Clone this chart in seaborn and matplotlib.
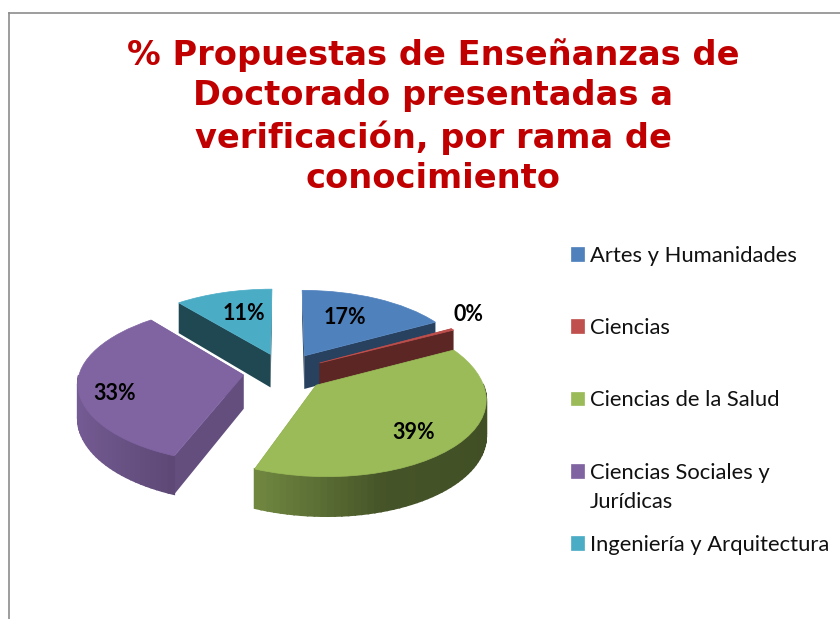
import numpy as np
import matplotlib
matplotlib.use("Agg")
import matplotlib.pyplot as plt
import matplotlib.transforms as mtransforms
import seaborn as sns

# data
categories = ["Artes y Humanidades", "Ciencias", "Ciencias de la Salud",
              "Ciencias Sociales y\nJurídicas", "Ingeniería y Arquitectura"]
percent = [17, 0.4, 39, 33, 11]
title_text = "% Propuestas de Enseñanzas de\nDoctorado presentadas a\nverificación, por rama de\nconocimiento"

# style
colors = ["#4F81BD", "#C0504D", "#9BBB59", "#8064A2", "#4BACC6"]
radial_shade = [0.5, 0.48, 0.5, 0.78, 0.42]
draw_order = [1, 2, 3, 3.2, 1]
label_dist = [0.63, 1.24, 0.75, 0.8, 0.62]
label_turn = [4, 6.5, -5, 8.5, -2.7]

# fake 3D view of the pie, unit circle -> pixels
cx, cy = 284, 372
rx, ry = 164, 77
persp_k = 0.12
front_lean = 6.5
depth = 34


def project(x, y, z=0.0):
    s = 1 / (1 + persp_k * y)
    return cx + rx * x * s - front_lean * np.minimum(y, 0), cy - ry * y * s + depth * z * s


class Persp(mtransforms.Transform):
    input_dims = 2
    output_dims = 2

    def transform_non_affine(self, xy):
        xy = np.asarray(xy)
        return np.column_stack(project(xy[:, 0], xy[:, 1]))


def arc_shade(c):
    return np.interp(c, [-1, -0.36, 0.3, 1], [0.92, 0.72, 0.45, 0.42])


def darker(color, f):
    return tuple(np.array(matplotlib.colors.to_rgb(color)) * f)


sns.set_theme(style="white")
plt.rcParams["font.family"] = ["Lato", "DejaVu Sans"]

fig = plt.figure(figsize=(8.4, 6.19), dpi=100)
ax = fig.add_axes([9 / 840, 0, 831 / 840, 606 / 619])

wedges, _, autotexts = ax.pie(percent, explode=[0.25] * len(percent), startangle=90,
                              counterclock=False, colors=sns.color_palette(colors),
                              autopct="%.0f%%")

ax.set_aspect("auto")
ax.set_xlim(9, 840)
ax.set_ylim(619, 13)
ax.set_frame_on(True)
for side in ["right", "bottom"]:
    ax.spines[side].set_visible(False)
for side in ["left", "top"]:
    ax.spines[side].set_color("#8c8c8c")
    ax.spines[side].set_linewidth(1.2)

persp = Persp() + ax.transData

for i, w in enumerate(wedges):
    (x0, y0), r = w.center, w.r
    t1, t2 = np.radians(w.theta1), np.radians(w.theta2)
    z = draw_order[i]
    w.set_transform(persp)
    w.set_zorder(z + 0.5)
    w.set_edgecolor(colors[i])
    w.set_linewidth(0.5)

    # straight walls from the tip to the rim
    for t in (t1, t2):
        x_rim, y_rim = x0 + r * np.cos(t), y0 + r * np.sin(t)
        top = project(np.array([x0, x_rim]), np.array([y0, y_rim]))
        bot = project(np.array([x_rim, x0]), np.array([y_rim, y0]), 1.0)
        ax.fill(np.r_[top[0], bot[0]], np.r_[top[1], bot[1]], lw=0,
                color=darker(colors[i], radial_shade[i]), zorder=z)

    # outer wall, small strips for the shading, front side only
    thetas = np.linspace(t1, t2, max(int(np.degrees(t2 - t1) / 2), 2))
    for a, b in zip(thetas[:-1], thetas[1:]):
        if np.sin((a + b) / 2) > 0:
            continue
        xs = x0 + r * np.cos(np.array([a, b]))
        ys = y0 + r * np.sin(np.array([a, b]))
        top = project(xs, ys)
        bot = project(xs[::-1], ys[::-1], 1.0)
        shade = darker(colors[i], arc_shade(np.cos((a + b) / 2)))
        ax.fill(np.r_[top[0], bot[0]], np.r_[top[1], bot[1]], color=shade,
                ec=shade, lw=1.2, zorder=z + 0.1)

    # percent labels
    mid = (t1 + t2) / 2 + np.radians(label_turn[i])
    at = autotexts[i]
    at.set_transform(persp)
    at.set_position((x0 + label_dist[i] * np.cos(mid), y0 + label_dist[i] * np.sin(mid)))
    at.set_fontsize(15.5)
    at.set_fontweight("bold")
    at.set_color("black")
    at.set_zorder(10)

ax.text(433, 116.5, title_text, ha="center", va="center", color="#C00000",
        family="DejaVu Sans", fontweight="bold", fontsize=24.2, linespacing=1.29)

# rows in the legend are evenly spaced, the wrapped second line hangs into the gap
first_lines = [c.split("\n")[0] for c in categories]
leg = ax.legend(wedges, first_lines, loc="upper left", bbox_to_anchor=(571 / 840, 1 - 246 / 619),
                bbox_transform=fig.transFigure, frameon=False, fontsize=15.85,
                labelspacing=2.37, handlelength=0.59, handleheight=0.59, handletextpad=0.27,
                borderpad=0, borderaxespad=0, labelcolor="#111111")
# zorder above the legend so the text it hangs from is placed first
ax.annotate(categories[3].split("\n")[1], xy=(0, 0), xycoords=leg.get_texts()[3],
            xytext=(0, -21), textcoords="offset points", va="bottom",
            fontsize=15.85, color="#111111", zorder=6)

fig.savefig("out.png", dpi=100, facecolor="white")
